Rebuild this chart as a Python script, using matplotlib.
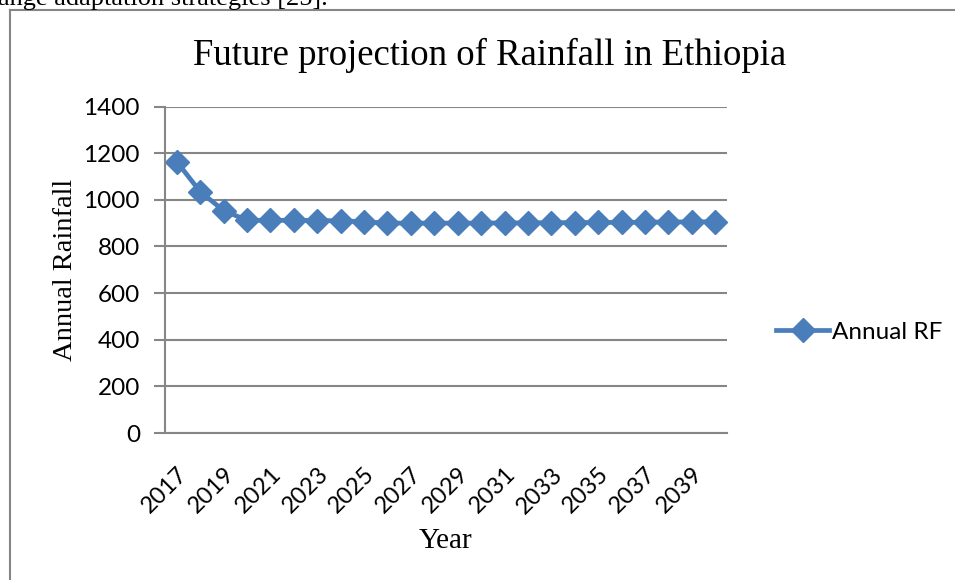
import matplotlib.pyplot as plt
from matplotlib.lines import Line2D

# Data
years = list(range(2017, 2041))
annual_rf = [1164, 1035, 954, 912, 912, 912, 911, 910, 906, 900, 900, 900,
             900, 900, 901, 901, 902, 902, 903, 903, 904, 905, 905, 906]
tick_years = years[::2]

blue = '#4a7ebb'
gray = '#868686'

fig = plt.figure(figsize=(9.55, 5.8), dpi=100)
ax = fig.add_axes([165 / 955, 1 - 433 / 580, (727 - 165) / 955, (433 - 106.5) / 580])

x = list(range(len(years)))
ax.plot(x, annual_rf, color=blue, lw=3.4, marker='D', markersize=12,
        markeredgecolor=blue, label='Annual RF', clip_on=False)

ax.set_ylim(0, 1400)
ax.set_yticks(range(0, 1401, 200))
ax.set_xlim(-0.5, len(years) - 0.5)
ax.set_xticks(x[::2])
ax.set_xticklabels([str(y) for y in tick_years], rotation=45, ha='right',
                   rotation_mode='anchor', family='Lato', fontsize=17)
for lab in ax.get_yticklabels():
    lab.set_family('Lato')
    lab.set_fontsize(17.5)

ax.grid(axis='y', color=gray, lw=1.5)
ax.set_axisbelow(True)
for s in ['top', 'right']:
    ax.spines[s].set_visible(False)
ax.spines['left'].set_color(gray)
ax.spines['bottom'].set_color(gray)
ax.spines['left'].set_linewidth(1.5)
ax.spines['bottom'].set_linewidth(1.5)
ax.tick_params(axis='y', length=8, width=1.5, color=gray, pad=10)
ax.tick_params(axis='x', length=0, pad=22)

fig.text(490 / 955, 1 - 55 / 580, 'Future projection of Rainfall in Ethiopia',
         family='Liberation Serif', fontsize=26.5, ha='center', va='center')
ax.set_ylabel('Annual Rainfall', family='Liberation Serif', fontsize=20.5, labelpad=4)
ax.set_xlabel('Year', family='Liberation Serif', fontsize=21, labelpad=8)

fig.legend(loc='center left', bbox_to_anchor=(776 / 955, 1 - 332 / 580), frameon=False,
           prop={'family': 'Lato', 'size': 17.5}, handlelength=2.2, handletextpad=0.1,
           borderpad=0, borderaxespad=0)

# chart frame and cut-off document text above it
fig.add_artist(Line2D([10 / 955, 10 / 955], [0, 1 - 10 / 580], color=gray, lw=1.5))
fig.add_artist(Line2D([10 / 955, 1], [1 - 10 / 580, 1 - 10 / 580], color=gray, lw=1.5))
fig.text(-2 / 955, 1 - 5 / 580, 'ange adaptation strategies [25].', family='Liberation Serif',
         fontsize=19, va='baseline', ha='left')

fig.savefig('out.png', dpi=100)
